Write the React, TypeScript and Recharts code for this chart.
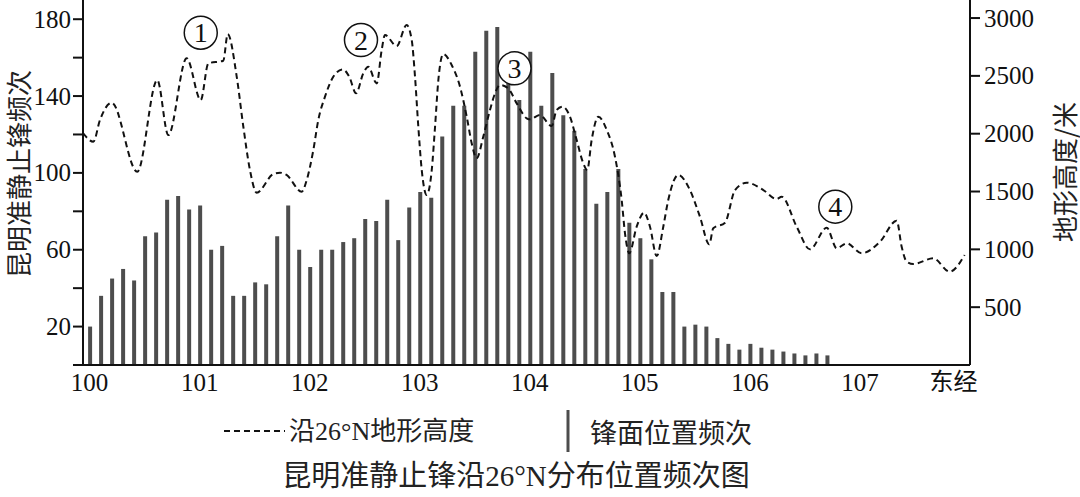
import React from 'react';
import { ComposedChart, LineChart, Bar, Line, XAxis, YAxis, ReferenceDot } from 'recharts';

// 锋面位置频次 — longitude of each bar (°E)
const freqLon = [
  100.0, 100.1, 100.2, 100.3, 100.4, 100.5, 100.6, 100.7, 100.8, 100.9,
  101.0, 101.1, 101.2, 101.3, 101.4, 101.5, 101.6, 101.7, 101.8, 101.9,
  102.0, 102.1, 102.2, 102.3, 102.4, 102.5, 102.6, 102.7, 102.8, 102.9,
  103.0, 103.1, 103.2, 103.3, 103.4, 103.5, 103.6, 103.7, 103.8, 103.9,
  104.0, 104.1, 104.2, 104.3, 104.4, 104.5, 104.6, 104.7, 104.8, 104.9,
  105.0, 105.1, 105.2, 105.3, 105.4, 105.5, 105.6, 105.7, 105.8, 105.9,
  106.0, 106.1, 106.2, 106.3, 106.4, 106.5, 106.6, 106.7,
];
const freqValues = [
  20, 36, 45, 50, 44, 67, 69, 86, 88, 81,
  83, 60, 62, 36, 36, 43, 42, 67, 83, 60,
  51, 60, 60, 64, 66, 76, 75, 86, 65, 82,
  90, 87, 119, 135, 135, 163, 174, 176, 148, 138,
  163, 135, 152, 130, 122, 102, 84, 90, 102, 74,
  66, 55, 38, 38, 20, 21, 20, 14, 11, 8,
  11, 9, 8, 7, 6, 5, 6, 5,
];

// 沿26°N地形高度 — profile points
const terrainLon = [
  99.94, 100.034, 100.094, 100.201, 100.433, 100.615, 100.715, 100.882, 101.01, 101.079,
  101.215, 101.255, 101.337, 101.397, 101.457, 101.518, 101.669, 101.73, 101.79, 101.927,
  101.973, 102.033, 102.078, 102.139, 102.214, 102.3, 102.36, 102.421, 102.487, 102.532,
  102.609, 102.654, 102.684, 102.79, 102.881, 102.927, 102.957, 102.987, 103.018, 103.063,
  103.109, 103.139, 103.169, 103.214, 103.29, 103.366, 103.427, 103.472, 103.517, 103.577,
  103.638, 103.684, 103.729, 103.804, 103.881, 103.972, 104.002, 104.092, 104.199, 104.244,
  104.299, 104.365, 104.426, 104.486, 104.522, 104.562, 104.622, 104.699, 104.774, 104.835,
  104.865, 104.904, 104.971, 105.038, 105.092, 105.153, 105.213, 105.258, 105.349, 105.455,
  105.546, 105.631, 105.667, 105.774, 105.865, 105.971, 106.122, 106.243, 106.289, 106.425,
  106.546, 106.698, 106.789, 106.88, 107.016, 107.182, 107.334, 107.379, 107.425, 107.485,
  107.667, 107.815, 107.951,
];
const terrainHeight = [
  2006, 1931, 2118, 2268, 1671, 2464, 1988, 2652, 2291, 2608,
  2631, 2862, 2492, 2060, 1686, 1490, 1651, 1663, 1643, 1498,
  1599, 1859, 2118, 2320, 2492, 2556, 2492, 2349, 2522, 2579,
  2435, 2723, 2853, 2758, 2939, 2810, 2492, 2060, 1686, 1470,
  1686, 2060, 2464, 2689, 2594, 2406, 2147, 1917, 1787, 1974,
  2205, 2349, 2421, 2392, 2262, 2133, 2124, 2161, 2066, 2205,
  2233, 2147, 1945, 1744, 1686, 1945, 2147, 2032, 1801, 1426,
  1139, 966, 1196, 1317, 1196, 942, 1196, 1426, 1643, 1513,
  1282, 1043, 1182, 1230, 1513, 1576, 1513, 1435, 1455, 1196,
  1000, 1187, 1009, 1052, 966, 1066, 1248, 1023, 893, 873,
  922, 807, 951,
];

const xTicks = [100, 101, 102, 103, 104, 105, 106, 107, 107.85];
const xTickLabels = ['100', '101', '102', '103', '104', '105', '106', '107', '东经'];
const leftTicks = [0, 20, 40, 60, 80, 100, 120, 140, 160, 180];
const leftLabeled = [20, 60, 100, 140, 180];
const rightTicks = [500, 1000, 1500, 2000, 2500, 3000];

const peakLabels = ['1', '2', '3', '4'];
const peakLon = [101.01, 102.466, 103.861, 106.776];
const peakHeight = [2873, 2810, 2565, 1369];

const barData = freqLon.map((lon, i) => ({ lon, freq: freqValues[i] }));
const terrainData = terrainLon.map((lon, i) => ({ lon, h: terrainHeight[i] }));

const W = 1080;
const H = 400;
const MARGIN = { top: 0, right: 30, bottom: 0, left: 23 };
const X_DOMAIN: [number, number] = [99.94, 108];
const LEFT_DOMAIN: [number, number] = [0, 190];
const RIGHT_DOMAIN: [number, number] = [0, 3156];

const SERIF = '"Liberation Serif", "Noto Sans CJK SC", serif';
const CJK = '"Noto Sans CJK SC", "Liberation Serif", sans-serif';

const XTick = (props: any) => {
  const { x, y, payload } = props;
  const label = xTickLabels[xTicks.indexOf(payload.value)] ?? '';
  const isCjk = label === '东经';
  return (
    <text x={x} y={y} dy="0.75em" textAnchor="middle" fontSize={isCjk ? 24 : 25} fontFamily={isCjk ? CJK : SERIF} fill="#111">
      {label}
    </text>
  );
};

const LeftTick = (props: any) => {
  const { x, y, payload } = props;
  const label = leftLabeled.includes(payload.value) ? String(payload.value) : '';
  return (
    <text x={x} y={y} textAnchor="end" dominantBaseline="central" fontSize={25} fontFamily={SERIF} fill="#111">
      {label}
    </text>
  );
};

const RightTick = (props: any) => {
  const { x, y, payload } = props;
  return (
    <text x={x} y={y} textAnchor="start" dominantBaseline="central" fontSize={25} fontFamily={SERIF} fill="#111">
      {String(payload.value)}
    </text>
  );
};

const PeakShape = (label: string) => (props: any) => {
  const { cx, cy } = props;
  return (
    <g>
      <circle cx={cx} cy={cy} r={16.5} fill="#fff" stroke="#111" strokeWidth={1.5} />
      <text x={cx} y={cy} textAnchor="middle" dominantBaseline="central" fontSize={28} fontFamily={SERIF} fill="#111">
        {label}
      </text>
    </g>
  );
};

export default function App() {
  return (
    <div style={{ position: 'absolute', left: 0, top: 0, width: 1080, height: 497, background: '#fff', overflow: 'hidden', fontFamily: SERIF }}>
      <div style={{ position: 'absolute', left: 0, top: 0 }}>
        <ComposedChart width={W} height={H} data={barData} margin={MARGIN}>
          <XAxis
            dataKey="lon"
            type="number"
            domain={X_DOMAIN}
            allowDataOverflow
            ticks={xTicks}
            interval={0}
            tick={<XTick />}
            tickLine={false}
            tickSize={5}
            axisLine={{ stroke: '#111', strokeWidth: 2 }}
            height={35}
          />
          <YAxis
            yAxisId="left"
            domain={LEFT_DOMAIN}
            allowDataOverflow
            ticks={leftTicks}
            interval={0}
            tick={<LeftTick />}
            tickSize={10}
            tickMargin={2}
            tickLine={{ stroke: '#111', strokeWidth: 2 }}
            axisLine={{ stroke: '#111', strokeWidth: 2 }}
            width={60}
          />
          <YAxis
            yAxisId="right"
            orientation="right"
            domain={RIGHT_DOMAIN}
            allowDataOverflow
            ticks={rightTicks}
            interval={0}
            tick={<RightTick />}
            tickSize={10}
            tickMargin={4}
            tickLine={{ stroke: '#111', strokeWidth: 2 }}
            axisLine={{ stroke: '#111', strokeWidth: 2 }}
            width={80}
          />
          <Bar yAxisId="left" dataKey="freq" barSize={4} fill="#4d4d4d" isAnimationActive={false} />
        </ComposedChart>
      </div>
      <div style={{ position: 'absolute', left: 0, top: 0 }}>
        <LineChart width={W} height={H} data={terrainData} margin={MARGIN}>
          <XAxis dataKey="lon" type="number" domain={X_DOMAIN} allowDataOverflow tick={false} tickLine={false} axisLine={false} height={35} />
          <YAxis yAxisId="left" domain={LEFT_DOMAIN} allowDataOverflow tick={false} tickLine={false} axisLine={false} width={60} />
          <YAxis yAxisId="right" orientation="right" domain={RIGHT_DOMAIN} allowDataOverflow tick={false} tickLine={false} axisLine={false} width={80} />
          <Line
            yAxisId="right"
            type="monotone"
            dataKey="h"
            stroke="#111"
            strokeWidth={2}
            strokeDasharray="6 4"
            dot={false}
            isAnimationActive={false}
          />
          {peakLabels.map((lab, i) => (
            <ReferenceDot
              key={lab}
              yAxisId="right"
              x={peakLon[i]}
              y={peakHeight[i]}
              r={16}
              shape={PeakShape(lab)}
            />
          ))}
        </LineChart>
      </div>
      <svg width={1080} height={497} style={{ position: 'absolute', left: 0, top: 0, pointerEvents: 'none' }}>
        <text x={17} y={174} transform="rotate(-90 17 174)" textAnchor="middle" dominantBaseline="central" fontSize={26} fontFamily={CJK} fill="#222">
          昆明准静止锋频次
        </text>
        <text x={1063} y={172} transform="rotate(-90 1063 172)" textAnchor="middle" dominantBaseline="central" fontSize={26} fontFamily={CJK} fill="#222">
          地形高度/米
        </text>
        <line x1={224} y1={431} x2={285} y2={431} stroke="#111" strokeWidth={2} strokeDasharray="6 4" />
        <text x={289} y={431} dominantBaseline="central" fontSize={26} fontFamily={SERIF} fill="#222">
          沿26°N地形高度
        </text>
        <line x1={568} y1={410} x2={568} y2={452} stroke="#4d4d4d" strokeWidth={3} />
        <text x={590} y={431} dominantBaseline="central" fontSize={27} fontFamily={CJK} fill="#222">
          锋面位置频次
        </text>
        <text x={516} y={476} textAnchor="middle" dominantBaseline="central" fontSize={29} fontFamily={SERIF} fill="#222">
          昆明准静止锋沿26°N分布位置频次图
        </text>
      </svg>
    </div>
  );
}
